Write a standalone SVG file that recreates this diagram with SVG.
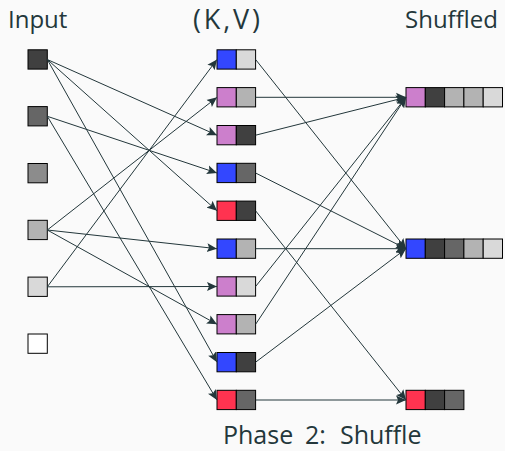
<svg xmlns="http://www.w3.org/2000/svg" width="505" height="451" viewBox="0 0 505 451">
<defs>
<style>
.t{font-family:"Open Sans","DejaVu Sans",sans-serif;font-size:24px;fill:#23373b}
.kvt{font-size:27px}
.ph{font-size:25px}
.c{stroke:#000;stroke-width:1}
.e{fill:none;stroke:#23373b;stroke-width:1}
.k1{fill:#3347ff}.k2{fill:#cc7fcc}.k3{fill:#ff3350}
.g1{fill:#404040}.g2{fill:#666666}.g3{fill:#8c8c8c}.g4{fill:#b3b3b3}.g5{fill:#d9d9d9}.g6{fill:#ffffff}
</style>
<marker id="ah" viewBox="0 -5 11 10" refX="10" refY="0" markerWidth="11" markerHeight="10" markerUnits="userSpaceOnUse" orient="auto">
<path d="M0,-4.5 L10,0 L0,4.5 L2,0 Z" fill="#23373b"/>
</marker>
</defs>
<rect width="505" height="451" fill="#fafafa"/>
<text class="t" x="8" y="28">Input</text>
<text class="t kvt" x="193" y="29" textLength="67" lengthAdjust="spacing">(K,V)</text>
<text class="t" x="405" y="28">Shuffled</text>
<text class="t ph" x="223" y="444">Phase <tspan x="305">2:</tspan> <tspan x="340">Shuffle</tspan></text>

<g id="input">
<g id="in1"><rect class="c g1" x="28" y="49.8" width="19.3" height="19.3"/></g>
<g id="in2"><rect class="c g2" x="28" y="106.6" width="19.3" height="19.3"/></g>
<g id="in3"><rect class="c g3" x="28" y="163.5" width="19.3" height="19.3"/></g>
<g id="in4"><rect class="c g4" x="28" y="220.3" width="19.3" height="19.3"/></g>
<g id="in5"><rect class="c g5" x="28" y="277.1" width="19.3" height="19.3"/></g>
<g id="in6"><rect class="c g6" x="28" y="334" width="19.3" height="19.3"/></g>
</g>

<g id="kv">
<g id="kv1"><rect class="c k1" x="217" y="49.8" width="19.3" height="19.3"/><rect class="c g5" x="236.3" y="49.8" width="19.3" height="19.3"/></g>
<g id="kv2"><rect class="c k2" x="217" y="87.6" width="19.3" height="19.3"/><rect class="c g4" x="236.3" y="87.6" width="19.3" height="19.3"/></g>
<g id="kv3"><rect class="c k2" x="217" y="125.5" width="19.3" height="19.3"/><rect class="c g1" x="236.3" y="125.5" width="19.3" height="19.3"/></g>
<g id="kv4"><rect class="c k1" x="217" y="163.3" width="19.3" height="19.3"/><rect class="c g2" x="236.3" y="163.3" width="19.3" height="19.3"/></g>
<g id="kv5"><rect class="c k3" x="217" y="201.1" width="19.3" height="19.3"/><rect class="c g1" x="236.3" y="201.1" width="19.3" height="19.3"/></g>
<g id="kv6"><rect class="c k1" x="217" y="239" width="19.3" height="19.3"/><rect class="c g4" x="236.3" y="239" width="19.3" height="19.3"/></g>
<g id="kv7"><rect class="c k2" x="217" y="276.8" width="19.3" height="19.3"/><rect class="c g5" x="236.3" y="276.8" width="19.3" height="19.3"/></g>
<g id="kv8"><rect class="c k2" x="217" y="314.6" width="19.3" height="19.3"/><rect class="c g4" x="236.3" y="314.6" width="19.3" height="19.3"/></g>
<g id="kv9"><rect class="c k1" x="217" y="352.5" width="19.3" height="19.3"/><rect class="c g1" x="236.3" y="352.5" width="19.3" height="19.3"/></g>
<g id="kv10"><rect class="c k3" x="217" y="390.3" width="19.3" height="19.3"/><rect class="c g2" x="236.3" y="390.3" width="19.3" height="19.3"/></g>
</g>

<g id="shuffled">
<g id="sh1"><rect class="c k2" x="406" y="87.6" width="19.3" height="19.3"/><rect class="c g1" x="425.3" y="87.6" width="19.3" height="19.3"/><rect class="c g4" x="444.6" y="87.6" width="19.3" height="19.3"/><rect class="c g4" x="463.9" y="87.6" width="19.3" height="19.3"/><rect class="c g5" x="483.2" y="87.6" width="19.3" height="19.3"/></g>
<g id="sh2"><rect class="c k1" x="406" y="239" width="19.3" height="19.3"/><rect class="c g1" x="425.3" y="239" width="19.3" height="19.3"/><rect class="c g2" x="444.6" y="239" width="19.3" height="19.3"/><rect class="c g4" x="463.9" y="239" width="19.3" height="19.3"/><rect class="c g5" x="483.2" y="239" width="19.3" height="19.3"/></g>
<g id="sh3"><rect class="c k3" x="406" y="390.3" width="19.3" height="19.3"/><rect class="c g1" x="425.3" y="390.3" width="19.3" height="19.3"/><rect class="c g2" x="444.6" y="390.3" width="19.3" height="19.3"/></g>
</g>

<g id="connectors">
<line class="e" x1="47.3" y1="59.5" x2="217" y2="135.2" marker-end="url(#ah)"/>
<line class="e" x1="47.3" y1="59.5" x2="217" y2="210.8" marker-end="url(#ah)"/>
<line class="e" x1="47.3" y1="59.5" x2="217" y2="362.2" marker-end="url(#ah)"/>
<line class="e" x1="47.3" y1="116.3" x2="217" y2="173" marker-end="url(#ah)"/>
<line class="e" x1="47.3" y1="116.3" x2="217" y2="400" marker-end="url(#ah)"/>
<line class="e" x1="47.3" y1="230" x2="217" y2="97.3" marker-end="url(#ah)"/>
<line class="e" x1="47.3" y1="230" x2="217" y2="248.7" marker-end="url(#ah)"/>
<line class="e" x1="47.3" y1="230" x2="217" y2="324.3" marker-end="url(#ah)"/>
<line class="e" x1="47.3" y1="286.8" x2="217" y2="59.5" marker-end="url(#ah)"/>
<line class="e" x1="47.3" y1="286.8" x2="217" y2="286.5" marker-end="url(#ah)"/>
<line class="e" x1="255.6" y1="97.3" x2="406" y2="97.3" marker-end="url(#ah)"/>
<line class="e" x1="255.6" y1="135.2" x2="406" y2="97.3" marker-end="url(#ah)"/>
<line class="e" x1="255.6" y1="286.5" x2="406" y2="97.3" marker-end="url(#ah)"/>
<line class="e" x1="255.6" y1="324.3" x2="406" y2="97.3" marker-end="url(#ah)"/>
<line class="e" x1="255.6" y1="59.5" x2="406" y2="248.7" marker-end="url(#ah)"/>
<line class="e" x1="255.6" y1="173" x2="406" y2="248.7" marker-end="url(#ah)"/>
<line class="e" x1="255.6" y1="248.7" x2="406" y2="248.7" marker-end="url(#ah)"/>
<line class="e" x1="255.6" y1="362.2" x2="406" y2="248.7" marker-end="url(#ah)"/>
<line class="e" x1="255.6" y1="210.8" x2="406" y2="400" marker-end="url(#ah)"/>
<line class="e" x1="255.6" y1="400" x2="406" y2="400" marker-end="url(#ah)"/>
</g>
</svg>
